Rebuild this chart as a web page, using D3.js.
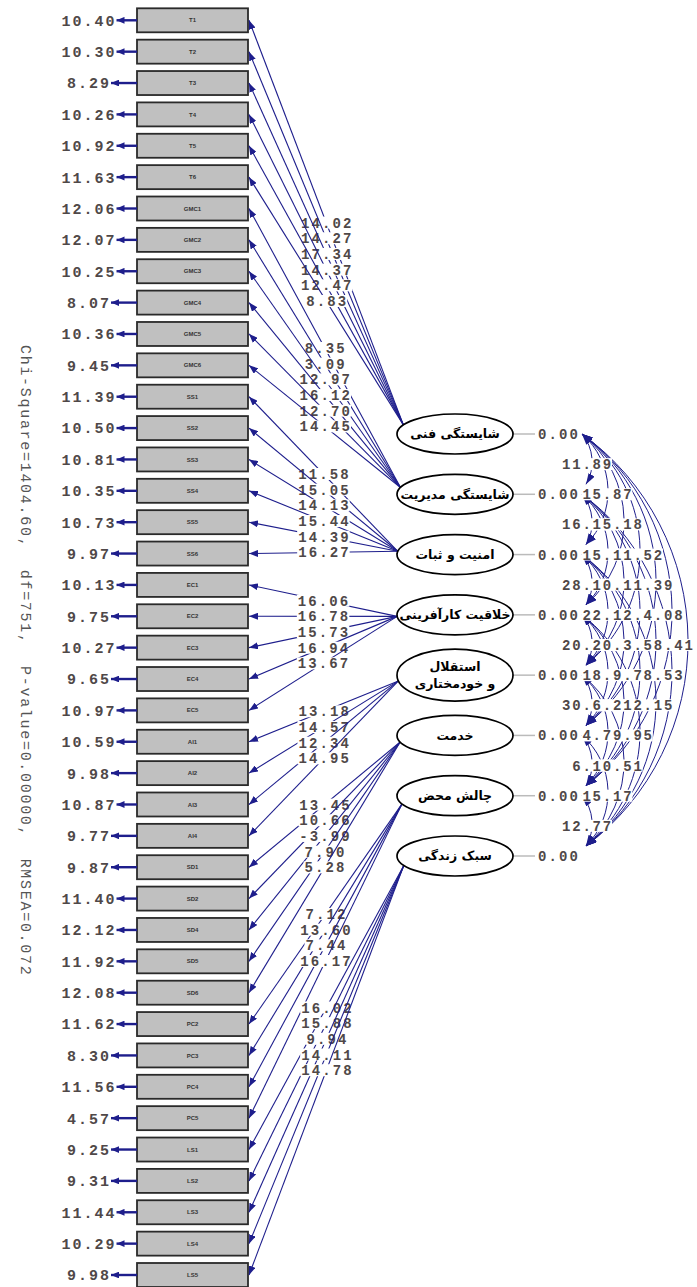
<!DOCTYPE html>
<html lang="fa">
<head>
<meta charset="utf-8">
<title>LISREL t-values</title>
<script src="https://cdn.jsdelivr.net/npm/d3@7"></script>
<style>
  body { margin: 0; background: #fff; }
  svg { display: block; }
  .num { font-family: "Liberation Mono", monospace; fill: #4f4848; font-weight: bold; }
</style>
</head>
<body>
<script>

// Width and height
var w = 697;
var h = 1287;

// observed variables, top to bottom
var indicators = ["T1","T2","T3","T4","T5","T6",
  "GMC1","GMC2","GMC3","GMC4","GMC5","GMC6",
  "SS1","SS2","SS3","SS4","SS5","SS6",
  "EC1","EC2","EC3","EC4","EC5",
  "AI1","AI2","AI3","AI4",
  "SD1","SD2","SD4","SD5","SD6",
  "PC2","PC3","PC4","PC5",
  "LS1","LS2","LS3","LS4","LS5"];

// error t-values (left of each box)
var errorValues = [10.40,10.30,8.29,10.26,10.92,11.63,
  12.06,12.07,10.25,8.07,10.36,9.45,
  11.39,10.50,10.81,10.35,10.73,9.97,
  10.13,9.75,10.27,9.65,10.97,
  10.59,9.98,10.87,9.77,
  9.87,11.40,12.12,11.92,12.08,
  11.62,8.30,11.56,4.57,
  9.25,9.31,11.44,10.29,9.98];

// latent factors (second line after "|")
var latents = ["شایستگی فنی","شایستگی مدیریت","امنیت و ثبات","خلاقیت کارآفرینی",
  "استقلال|و خودمختاری","خدمت","چالش محض","سبک زندگی"];

// how many indicators load on each latent, in order
var indicatorCounts = [6,6,6,5,4,5,4,5];

// loading t-values
var loadings = [14.02,14.27,17.34,14.37,12.47,8.83,
  8.35,3.09,12.97,16.12,12.70,14.45,
  11.58,15.05,14.13,15.44,14.39,16.27,
  16.06,16.78,15.73,16.94,13.67,
  13.18,14.57,12.34,14.95,
  13.45,10.66,-3.99,7.90,5.28,
  7.12,13.60,7.44,16.17,
  16.02,15.88,9.94,14.11,14.78];

// latent variances (fixed)
var latentVar = [0.00,0.00,0.00,0.00,0.00,0.00,0.00,0.00];

// correlation t-values, row i = latent i with latents i+1..8
var phiValues = [
  [11.89,15.87,15.18,11.52,11.39,4.08,8.41],
  [16.12,15.14,10.25,12.13,3.58,8.53],
  [28.16,22.40,20.31,9.72,12.15],
  [20.44,18.35,6.20,9.95],
  [30.18,4.79,10.51],
  [6.92,15.17],
  [12.77]
];

var fitText = "Chi-Square=1404.60,  df=751,  P-value=0.00000,  RMSEA=0.072";

// ---------------------------------------------------------------
var navy = "#1e1e8c";
var boxLeft = 137, boxRight = 248, boxH = 24;
var latX = 455, latRx = 58;
var pitch = 10.5;
var phiPitch = 10.2;

var latentOf = [];
indicatorCounts.forEach(function(n, k) { for (var i = 0; i < n; i++) latentOf.push(k); });

var yInd = d3.scalePoint().domain(indicators).range([20.3, 1275]);
var yLat = d3.scalePoint().domain(d3.range(latents.length)).range([434, 856]);

function fmt(v) { return v.toFixed(2); }
function latRy(k) { return latents[k].indexOf("|") >= 0 ? 26 : 20; }

//Create SVG element
var svg = d3.select("body")
            .append("svg")
            .attr("width", w)
            .attr("height", h);

var defs = svg.append("defs");
function addMarker(id, len, half) {
  defs.append("marker")
      .attr("id", id)
      .attr("viewBox", "0 " + (-half) + " " + len + " " + (2 * half))
      .attr("refX", len).attr("refY", 0)
      .attr("markerWidth", len).attr("markerHeight", 2 * half)
      .attr("markerUnits", "userSpaceOnUse")
      .attr("orient", "auto-start-reverse")
    .append("path")
      .attr("d", "M0," + (-half) + "L" + len + ",0L0," + half + "Z")
      .attr("fill", navy);
}
addMarker("load-head", 9, 3.5);
addMarker("err-head", 8, 3.4);
addMarker("arc-head", 11, 3.5);

// fit statistics, rotated
svg.append("text")
   .attr("transform", "translate(21,345) rotate(90)")
   .style("font-family", "Liberation Mono, monospace")
   .style("font-size", "15px")
   .style("letter-spacing", "1.7px")
   .style("white-space", "pre")
   .attr("fill", "#555")
   .text(fitText);

// observed variable boxes
var boxes = svg.selectAll("g.box")
   .data(indicators)
   .enter()
   .append("g")
   .attr("class", "box");

boxes.append("rect")
   .attr("x", boxLeft)
   .attr("y", function(d) { return yInd(d) - boxH / 2; })
   .attr("width", boxRight - boxLeft)
   .attr("height", boxH)
   .attr("fill", "#c0c0c0")
   .attr("stroke", "#2a2a2a")
   .attr("stroke-width", 1.8);

boxes.append("text")
   .attr("x", (boxLeft + boxRight) / 2)
   .attr("y", function(d) { return yInd(d); })
   .attr("dy", "0.35em")
   .attr("text-anchor", "middle")
   .style("font-family", "Liberation Sans, Arial, sans-serif")
   .style("font-size", "6px")
   .style("font-weight", "bold")
   .attr("fill", "#333")
   .text(function(d) { return d; });

// error arrows and values
indicators.forEach(function(name, i) {
  var y = yInd(name);
  var s = fmt(errorValues[i]);
  var tw = s.length * 11 - 2;
  var x0 = 88 - tw / 2;
  svg.append("line")
     .attr("x1", boxLeft).attr("y1", y)
     .attr("x2", x0 + tw + 2).attr("y2", y)
     .attr("stroke", navy).attr("stroke-width", 2.4)
     .attr("marker-end", "url(#err-head)");
  svg.append("text")
     .attr("class", "num")
     .attr("x", x0).attr("y", y).attr("dy", "0.36em")
     .style("font-size", "15px")
     .style("letter-spacing", "2px")
     .text(s);
});

// anchor point on each ellipse for the loading lines
var anchors = latents.map(function(name, k) {
  var ys = indicators.filter(function(d, i) { return latentOf[i] === k; }).map(yInd);
  var dy = d3.mean(ys) - yLat(k);
  var a = Math.asin(dy / (Math.abs(dy) + 400));
  return [latX - latRx * Math.cos(a), yLat(k) + latRy(k) * Math.sin(a)];
});

// loading lines with their labels
var loadG = svg.append("g");
indicators.forEach(function(name, i) {
  var a = anchors[latentOf[i]];
  var x2 = boxRight + 1, y2 = yInd(name);
  loadG.append("line")
       .attr("x1", a[0]).attr("y1", a[1])
       .attr("x2", x2).attr("y2", y2)
       .attr("stroke", navy).attr("stroke-width", 1.1)
       .attr("marker-end", "url(#load-head)");
  var mx = (a[0] + x2) / 2, my = (a[1] + y2) / 2;
  var s = fmt(loadings[i]);
  var tw = s.length * pitch - 2;
  loadG.append("rect")
       .attr("x", mx - tw / 2 - 1).attr("y", my - 6)
       .attr("width", tw + 2).attr("height", 12)
       .attr("fill", "#fff");
  loadG.append("text")
       .attr("class", "num")
       .attr("x", mx - tw / 2).attr("y", my).attr("dy", "0.36em")
       .style("font-size", "14px")
       .style("letter-spacing", "2.1px")
       .text(s);
});

// latent ellipses
var lat = svg.selectAll("g.latent")
   .data(latents)
   .enter()
   .append("g")
   .attr("class", "latent");

lat.append("line")
   .attr("x1", latX + latRx).attr("x2", 535)
   .attr("y1", function(d, k) { return yLat(k); })
   .attr("y2", function(d, k) { return yLat(k); })
   .attr("stroke", "#bbb").attr("stroke-width", 1.5);

lat.append("ellipse")
   .attr("cx", latX)
   .attr("cy", function(d, k) { return yLat(k); })
   .attr("rx", latRx)
   .attr("ry", function(d, k) { return latRy(k); })
   .attr("fill", "#fff")
   .attr("stroke", "#000")
   .attr("stroke-width", 1.7);

lat.append("text")
   .attr("x", latX)
   .attr("y", function(d, k) { return yLat(k); })
   .attr("text-anchor", "middle")
   .style("font-family", "DejaVu Sans, sans-serif")
   .style("font-size", "12.5px")
   .style("font-weight", "bold")
   .attr("fill", "#000")
   .each(function(d) {
     var parts = d.split("|");
     var t = d3.select(this);
     parts.forEach(function(p, j) {
       t.append("tspan")
        .attr("x", latX)
        .attr("dy", j === 0 ? (parts.length > 1 ? "-0.3em" : "0.35em") : "1.35em")
        .text(p);
     });
   });

lat.append("text")
   .attr("class", "num")
   .attr("x", 538)
   .attr("y", function(d, k) { return yLat(k); })
   .attr("dy", "0.36em")
   .style("font-size", "14px")
   .style("letter-spacing", "2.1px")
   .text(function(d, k) { return fmt(latentVar[k]); });

// correlation arcs
var pairs = [];
phiValues.forEach(function(row, i) {
  row.forEach(function(v, m) { pairs.push({ i: i, j: i + m + 1, v: v }); });
});
pairs.sort(function(a, b) { return (a.j - a.i) - (b.j - b.i) || a.i - b.i; });

var arcG = svg.append("g");
pairs.forEach(function(p) {
  var span = p.j - p.i;
  var x1 = 582, y1 = yLat(p.i);
  var x2 = 586, y2 = yLat(p.j) - 10;
  var L = Math.hypot(x2 - x1, y2 - y1);
  var bulge = 16 * span - 8;
  var r = (L * L / 4 + bulge * bulge) / (2 * bulge);
  arcG.append("path")
      .attr("d", "M" + x1 + "," + y1 + "A" + r + "," + r + " 0 0 1 " + x2 + "," + y2)
      .attr("fill", "none")
      .attr("stroke", navy).attr("stroke-width", 1)
      .attr("marker-start", "url(#arc-head)")
      .attr("marker-end", "url(#arc-head)");
});

// label slots (in characters from x=562) by span; short labels of span 1 shift one slot
var slot = [0, 2, 3, 5, 6, 8, 9];
var phiG = svg.append("g");
pairs.forEach(function(p) {
  var span = p.j - p.i;
  var s = fmt(p.v);
  var x = 562 + (slot[span - 1] + (span === 1 ? 5 - s.length : 0)) * phiPitch;
  var y = (yLat(p.i) + yLat(p.j)) / 2;
  var tw = s.length * phiPitch - 2;
  phiG.append("rect")
      .attr("x", x - 1).attr("y", y - 6)
      .attr("width", tw + 2).attr("height", 12)
      .attr("fill", "#fff");
  phiG.append("text")
      .attr("class", "num")
      .attr("x", x).attr("y", y).attr("dy", "0.36em")
      .style("font-size", "14px")
      .style("letter-spacing", "1.8px")
      .text(s);
});

</script>
</body>
</html>
